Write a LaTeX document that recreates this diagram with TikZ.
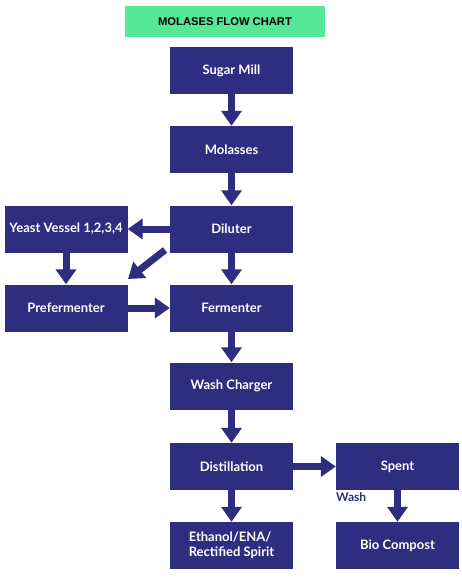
\documentclass[tikz,border=0pt]{standalone}
\usepackage{fontspec}
\setmainfont{Lato}
\newfontfamily\titlefont{Liberation Sans}
\usetikzlibrary{arrows.meta}
\definecolor{boxblue}{RGB}{46,46,128}
\definecolor{titlegreen}{RGB}{86,232,150}
\tikzset{
  flowbox/.style={draw=none, fill=boxblue, text=white, minimum width=123pt, minimum height=47pt, inner sep=0pt, font=\bfseries\fontsize{13}{15}\selectfont, align=center},
  flowarrow/.style={draw=boxblue, line width=7pt, -{Triangle[width=20pt,length=15pt]}, shorten >=0pt}
}
\begin{document}
\begin{tikzpicture}[x=1pt,y=-1pt]
\useasboundingbox (0,0) rectangle (462,580);
\fill[white] (0,0) rectangle (462,580);
\node[fill=titlegreen, minimum width=200pt, minimum height=31pt, inner sep=0pt, font=\titlefont\bfseries\fontsize{11.2}{13}\selectfont] (title) at (225,21.5) {MOLASES FLOW CHART};
\node[flowbox] (mill) at (231.5,70.5) {Sugar Mill};
\node[flowbox] (mol) at (231.5,149.5) {Molasses};
\node[flowbox] (dil) at (231.5,229) {Diluter};
\node[flowbox] (yeast) at (66,229) {Yeast Vessel 1,2,3,4};
\node[flowbox] (pre) at (66,308) {Prefermenter};
\node[flowbox] (fer) at (231.5,308) {Fermenter};
\node[flowbox] (wash) at (231.5,386) {Wash Charger};
\node[flowbox] (dist) at (231.5,466.5) {Distillation};
\node[flowbox] (spent) at (397.5,466.5) {Spent};
\node[flowbox, align=left] (eth) at (231.5,545.5) {Ethanol/ENA/\\Rectified Spirit};
\node[flowbox] (bio) at (397.5,545.5) {Bio Compost};
\node[anchor=west, inner sep=0pt, text=boxblue, font=\bfseries\fontsize{12}{14}\selectfont] (washlbl) at (336,497) {Wash};
\coordinate (dstart) at (165,250);
\coordinate (dend) at (128,279);
\draw[flowarrow] (mill) -- (mol);
\draw[flowarrow] (mol) -- (dil);
\draw[flowarrow] (dil) -- (yeast);
\draw[flowarrow] (dstart) -- (dend);
\draw[flowarrow] (dil) -- (fer);
\draw[flowarrow] (yeast) -- (pre);
\draw[flowarrow] (pre) -- (fer);
\draw[flowarrow] (fer) -- (wash);
\draw[flowarrow] (wash) -- (dist);
\draw[flowarrow] (dist) -- (spent);
\draw[flowarrow] (dist) -- (eth);
\draw[flowarrow] (spent) -- (bio);
\end{tikzpicture}
\end{document}
